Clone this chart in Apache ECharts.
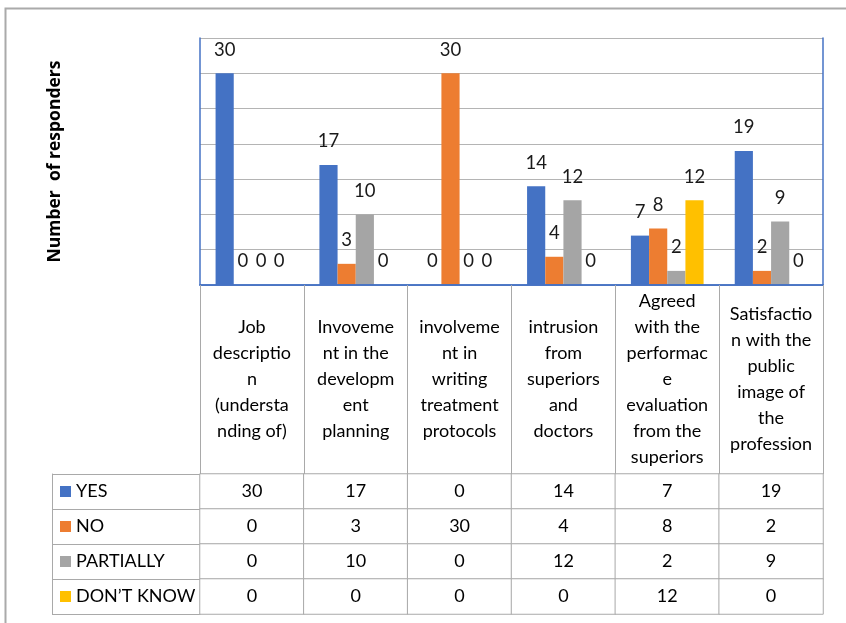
<!DOCTYPE html>
<html>
<head>
<meta charset="utf-8">
<script src="https://cdn.jsdelivr.net/npm/echarts@6/dist/echarts.min.js"></script>
<style>
html,body{margin:0;padding:0;background:#fff;}
#chart{width:846px;height:623px;}
</style>
</head>
<body>
<div id="chart"></div>
<script>
const categories = [
  'Job\ndescriptio\nn\n(understa\nnding of)',
  'Invoveme\nnt in the\ndevelopm\nent\nplanning',
  'involveme\nnt in\nwriting\ntreatment\nprotocols',
  'intrusion\nfrom\nsuperiors\nand\ndoctors',
  'Agreed\nwith the\nperformac\ne\nevaluation\nfrom the\nsuperiors',
  'Satisfactio\nn with the\npublic\nimage of\nthe\nprofession'
];
const seriesNames = ['YES', 'NO', 'PARTIALLY', 'DON\u2019T KNOW'];
const yesValues = [30, 17, 0, 14, 7, 19];
const noValues = [0, 3, 30, 4, 8, 2];
const partiallyValues = [0, 10, 0, 12, 2, 9];
const dontKnowValues = [0, 0, 0, 0, 12, 0];
const colors = ['#4472C4', '#ED7D31', '#A5A5A5', '#FFC000'];
const yTitle = 'Number  of responders';

const allValues = [yesValues, noValues, partiallyValues, dontKnowValues];
const FONT = 'Lato';
const gridGray = '#b4b4b4';
const tableGray = '#a9a9a9';
const blue = '#4472C4';

const barSeries = seriesNames.map((name, i) => ({
  name: name,
  type: 'bar',
  xAxisIndex: 0,
  yAxisIndex: 0,
  data: allValues[i],
  barGap: '0%',
  barCategoryGap: '30%',
  itemStyle: { color: colors[i] },
  label: {
    show: true,
    position: 'top',
    distance: 14,
    fontFamily: FONT,
    fontSize: 18.5,
    color: '#1a1a1a'
  },
  emphasis: { disabled: true }
}));

const heatData = [];
allValues.forEach((vals, r) => {
  vals.forEach((v, c) => heatData.push([c, r, v]));
});

const rich = { t: { fontFamily: FONT, fontSize: 18, color: '#000', padding: [0, 0, 0, 5] } };
colors.forEach((c, i) => { rich['m' + i] = { width: 11, height: 11, backgroundColor: c }; });

const chart = echarts.init(document.getElementById('chart'));
chart.setOption({
  animation: false,
  backgroundColor: '#fff',
  textStyle: { fontFamily: FONT },
  graphic: [{
    type: 'rect',
    shape: { x: 5.5, y: 8.5, width: 1000, height: 800 },
    style: { fill: 'none', stroke: '#aaaaaa', lineWidth: 2 },
    silent: true
  }],
  grid: [
    { left: 200, right: 23, top: 38, height: 247 },
    { left: 200, right: 23, top: 474, height: 140 }
  ],
  xAxis: [
    {
      type: 'category', gridIndex: 0, data: categories, position: 'bottom', z: 3,
      axisLine: { show: true, lineStyle: { color: blue, width: 1.5 } },
      axisTick: { show: true, length: 189, lineStyle: { color: tableGray, width: 1 } },
      axisLabel: {
        interval: 0, margin: 94, verticalAlign: 'middle', align: 'center',
        fontFamily: FONT, fontSize: 18, lineHeight: 26, color: '#000'
      }
    },
    {
      type: 'category', gridIndex: 0, data: categories, position: 'top', z: 3,
      axisLine: { show: true, lineStyle: { color: blue, width: 1.5 } },
      axisTick: { show: false }, axisLabel: { show: false }
    },
    {
      type: 'category', gridIndex: 1, data: categories, show: false
    }
  ],
  yAxis: [
    {
      type: 'value', gridIndex: 0, min: 0, max: 35, interval: 5, z: 0,
      axisLine: { show: false }, axisTick: { show: false }, axisLabel: { show: false },
      splitLine: { show: true, lineStyle: { color: gridGray, width: 1.2 } },
      name: yTitle, nameLocation: 'middle', nameRotate: 90, nameGap: 136,
      nameTextStyle: { fontFamily: 'Open Sans', fontWeight: 'bold', fontSize: 17.5, color: '#000' }
    },
    {
      type: 'value', gridIndex: 0, min: 0, max: 35, interval: 5, position: 'left', z: 3,
      axisLine: { show: true, lineStyle: { color: blue, width: 1.5 } },
      axisTick: { show: false }, axisLabel: { show: false }, splitLine: { show: false }
    },
    {
      type: 'value', gridIndex: 0, min: 0, max: 35, interval: 5, position: 'right', z: 3,
      axisLine: { show: true, lineStyle: { color: blue, width: 1.5 } },
      axisTick: { show: false }, axisLabel: { show: false }, splitLine: { show: false }
    },
    {
      type: 'category', gridIndex: 1, data: seriesNames, inverse: true, position: 'left',
      axisLine: { show: true, lineStyle: { color: tableGray } },
      axisTick: { show: true, length: 148, lineStyle: { color: tableGray } },
      axisLabel: {
        margin: 140, align: 'left',
        formatter: (val, idx) => '{m' + idx + '|}{t|' + val + '}',
        rich: rich
      }
    },
    {
      type: 'category', gridIndex: 1, data: seriesNames, inverse: true, position: 'left', offset: 148,
      axisLine: { show: true, lineStyle: { color: tableGray } },
      axisTick: { show: false }, axisLabel: { show: false }
    }
  ],
  series: barSeries.concat([{
    type: 'heatmap',
    xAxisIndex: 2,
    yAxisIndex: 3,
    data: heatData,
    itemStyle: { color: '#ffffff', borderColor: tableGray, borderWidth: 1 },
    label: {
      show: true, fontFamily: FONT, fontSize: 18, color: '#000',
      formatter: p => String(p.value[2])
    },
    emphasis: { disabled: true }
  }])
});
</script>
</body>
</html>
